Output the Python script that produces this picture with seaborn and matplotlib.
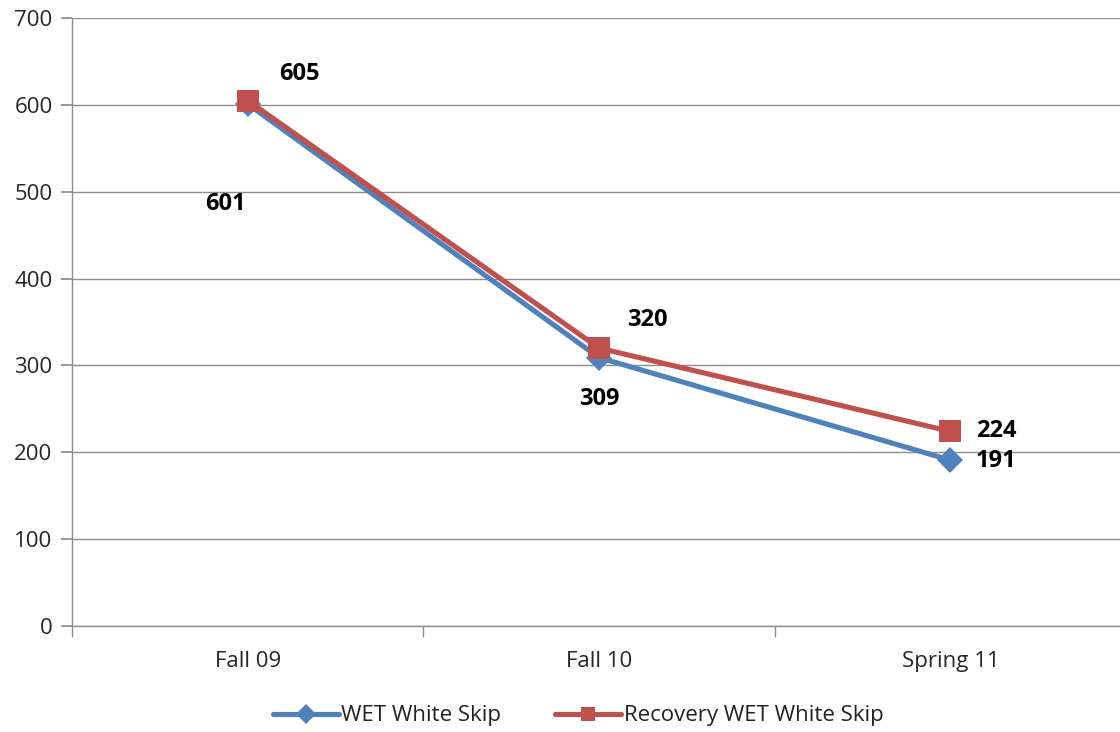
import numpy as np
import pandas as pd
import matplotlib
matplotlib.use("Agg")
import matplotlib.pyplot as plt
import seaborn as sns

terms = ["Fall 09", "Fall 10", "Spring 11"]
wet_white_skip = [601, 309, 191]
recovery_wet_white_skip = [605, 320, 224]

# label offsets in points (style only)
wet_offsets = [(-16, -72), (0, -30), (33, -1)]
rec_offsets = [(37, 19), (35, 20), (33, 0)]

blue = "#4F81BD"
red = "#C0504D"
grid_gray = "#8C8C8C"

sns.set_theme(style="white")
plt.rcParams["font.family"] = ["Open Sans", "DejaVu Sans"]

fig = plt.figure(figsize=(11.2, 7.32), dpi=100)
ax = fig.add_axes([72 / 1120, 1 - 626 / 732, 1054 / 1120, (626 - 18) / 732])

pos = np.arange(len(terms))
df = pd.DataFrame({"pos": pos, "wet": wet_white_skip, "rec": recovery_wet_white_skip})

sns.lineplot(data=df, x="pos", y="wet", ax=ax, color=blue, lw=3.7, marker="D",
             markersize=13, markeredgewidth=0, label="WET White Skip", zorder=3)
sns.lineplot(data=df, x="pos", y="rec", ax=ax, color=red, lw=3.7, marker="s",
             markersize=15.5, markeredgewidth=0, label="Recovery WET White Skip", zorder=4)

for x, y, off in zip(pos, wet_white_skip, wet_offsets):
    ax.annotate(str(y), (x, y), xytext=off, textcoords="offset points",
                ha="center", va="center", fontsize=17, fontweight="bold", color="black")
for x, y, off in zip(pos, recovery_wet_white_skip, rec_offsets):
    ax.annotate(str(y), (x, y), xytext=off, textcoords="offset points",
                ha="center", va="center", fontsize=17, fontweight="bold", color="black")

ax.set_xlim(-0.5, len(terms) - 0.5)
ax.set_ylim(0, 700)
ax.set_yticks(range(0, 701, 100))
ax.set_xticks(pos)
ax.set_xticklabels(terms)
ax.set_xticks(np.arange(-0.5, len(terms), 1.0), minor=True)
ax.set_xlabel("")
ax.set_ylabel("")

ax.yaxis.grid(True, color=grid_gray, lw=1)
ax.xaxis.grid(False)
ax.set_axisbelow(True)
for side in ["top", "right"]:
    ax.spines[side].set_visible(False)
for side in ["left", "bottom"]:
    ax.spines[side].set_color(grid_gray)
    ax.spines[side].set_linewidth(1)

ax.tick_params(axis="y", which="major", length=8, color=grid_gray, labelsize=16,
               labelcolor="#262626", pad=6, left=True)
ax.tick_params(axis="x", which="major", length=0, labelsize=16, labelcolor="#262626", pad=18)
ax.tick_params(axis="x", which="minor", length=8, color=grid_gray, bottom=True)

leg = ax.legend(loc="center", bbox_to_anchor=((578 - 72) / 1054, -0.148), ncol=2, frameon=False,
                fontsize=16, handlelength=3.0, columnspacing=2.4, handletextpad=0.1)
for t in leg.get_texts():
    t.set_color("#222222")
for h in leg.legend_handles:
    h.set_markersize(10)

fig.savefig("out.png", dpi=100)
